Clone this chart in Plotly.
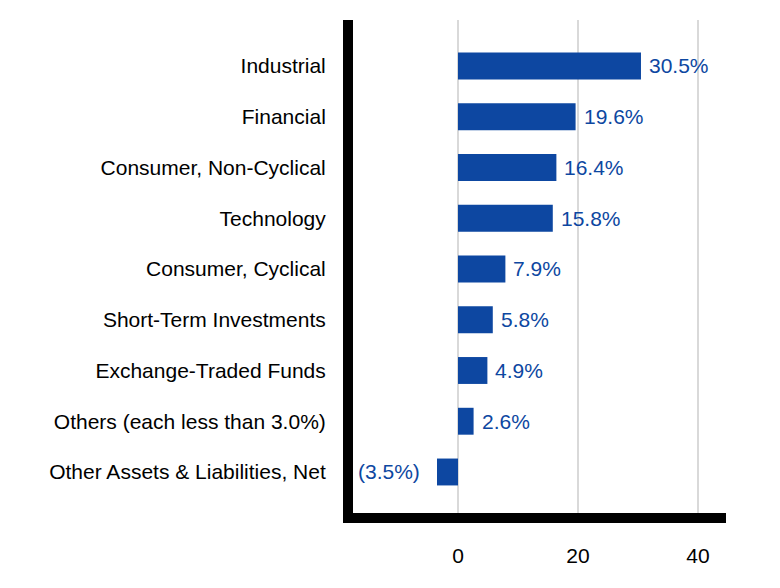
import plotly.graph_objects as go

categories = ["Industrial", "Financial", "Consumer, Non-Cyclical", "Technology",
              "Consumer, Cyclical", "Short-Term Investments", "Exchange-Traded Funds",
              "Others (each less than 3.0%)", "Other Assets & Liabilities, Net"]
values = [30.5, 19.6, 16.4, 15.8, 7.9, 5.8, 4.9, 2.6, -3.5]
labels = ["30.5%", "19.6%", "16.4%", "15.8%", "7.9%", "5.8%", "4.9%", "2.6%", "(3.5%)"]
x_ticks = [0, 20, 40]

BLUE = "#0d47a1"
FONT = "Liberation Sans, Arial, sans-serif"
FS = 21

fig = go.Figure(go.Bar(
    y=categories, x=values, orientation="h",
    marker=dict(color=BLUE, line=dict(width=0)),
    width=0.53,
))

for c, v, t in zip(categories, values, labels):
    fig.add_annotation(
        x=v, y=c, text=t, showarrow=False,
        xanchor="left" if v >= 0 else "right",
        xshift=6 if v >= 0 else -15,
        font=dict(family=FONT, size=FS, color=BLUE),
    )

fig.update_layout(
    width=780, height=588,
    margin=dict(l=345, r=62, t=12, b=83),
    plot_bgcolor="white", paper_bgcolor="white",
    showlegend=False,
    font=dict(family=FONT, size=FS, color="black"),
)
fig.update_xaxes(
    range=[-17.5, 44.67], tickvals=x_ticks, ticktext=[str(v) for v in x_ticks],
    showgrid=True, gridcolor="#d9d9d9", gridwidth=1.5,
    zeroline=False, automargin=False,
    showline=True, linecolor="black", linewidth=10,
    ticks="outside", ticklen=15, tickcolor="rgba(0,0,0,0)",
    tickfont=dict(size=FS, color="black"),
)
fig.update_yaxes(
    categoryorder="array", categoryarray=categories,
    autorange=False, range=[8.808, -0.906],
    showgrid=False, zeroline=False, automargin=False,
    showline=True, linecolor="black", linewidth=10,
    ticks="outside", ticklen=13, tickcolor="rgba(0,0,0,0)",
    tickfont=dict(size=FS, color="black"),
)

fig.write_html("out.html")
